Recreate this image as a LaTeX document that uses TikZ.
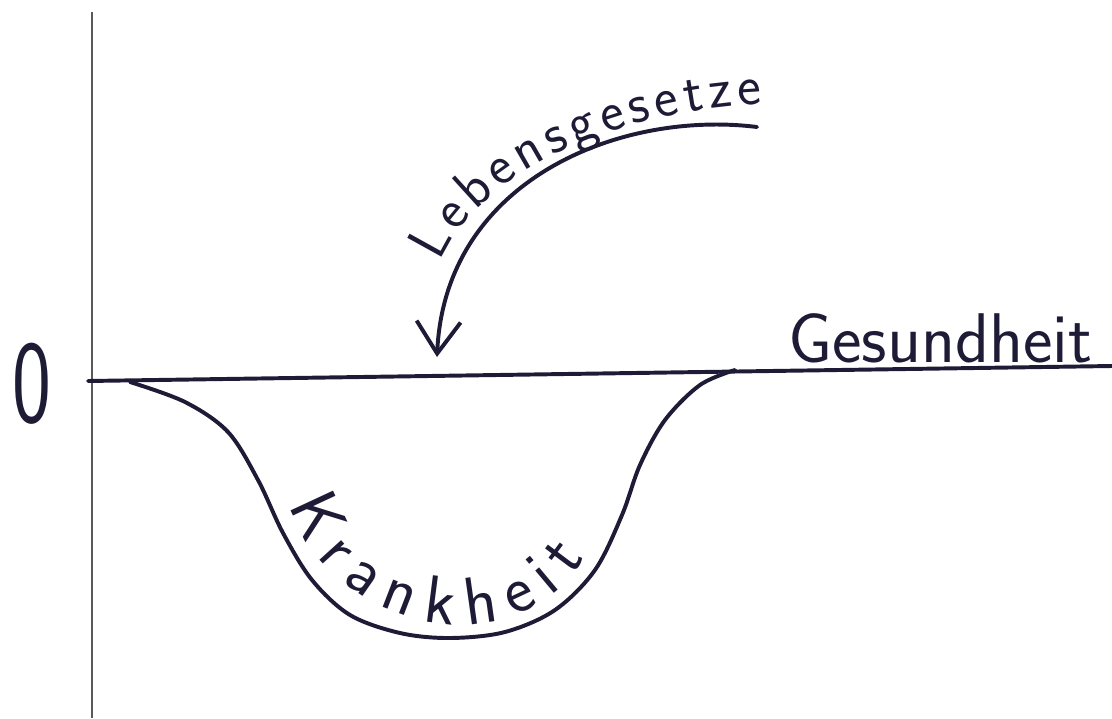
\documentclass[tikz,border=0pt]{standalone}
\usepackage{fontspec}
\usepackage{tikz}
\definecolor{ink}{HTML}{1E1B36}
\usetikzlibrary{decorations.text}
\usetikzlibrary{arrows.meta}
\tikzset{
	axis/.style={line width=1.3pt,draw=black!65},
	pen/.style={line width=2.8pt,draw=ink,line cap=round},
	hand/.style={font=\sffamily\fontsize{50}{50}\selectfont,text=ink,inner sep=0pt},
	lawarrow/.style={pen,-{Straight Barb[length=8mm,width=11mm,line width=2.8pt]}},
}
\begin{document}
\begin{tikzpicture}[x=0.025cm,y=-0.025cm]
 \useasboundingbox (0,0) rectangle (1112,718);
 \coordinate (ytop) at (92,12);
 \coordinate (ybot) at (92,718);
 \coordinate (o) at (88,381);
 \coordinate (xend) at (1112,366);
 \coordinate (lawtop) at (757,127);
 \coordinate (lawtip) at (437,357);
 \draw[axis] (ybot) -- (ytop);
 \draw[pen] (o) -- (xend);

\node (zero) at (32,384) [hand] {\scalebox{0.7}[1]{\fontsize{84}{84}\selectfont 0}};
\node (health) at (788,362) [hand,anchor=base west] {Gesundheit};

 % dip
 \draw[pen] plot[smooth,tension=0.55] coordinates {(130,382) (185,402) (228,432)
   (258,480) (283,533) (312,580) (350,615) (400,633) (450,638) (505,632)
   (555,610) (595,570) (622,515) (640,465) (665,420) (700,385) (735,370)};
 \path[decorate,decoration={text along path,
   text={|\sffamily\fontsize{48}{48}\selectfont\color{ink}|Krankheit},
   text align=fit to path}]
  (290,505) .. controls (325,625) and (510,675) .. (585,558);

 % Lebensgesetze
 \draw[lawarrow] (lawtop) .. controls (620,110) and (445,180) .. (lawtip);
 \path[decorate,decoration={text along path,
   text={|\sffamily\fontsize{40}{40}\selectfont\color{ink}|Lebensgesetze},
   text align=fit to path}]
  (440,262) .. controls (480,170) and (620,110) .. (762,104);
\end{tikzpicture}
\end{document}
